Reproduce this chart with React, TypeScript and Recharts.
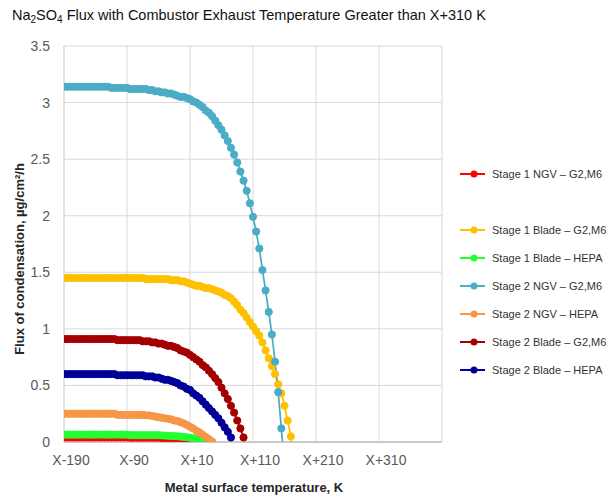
import { CartesianGrid, Legend, Line, LineChart, XAxis, YAxis } from 'recharts'

// metal surface temperature offsets from X, K
const TEMPS = [
  -190, -185, -180, -175, -170, -165, -160, -155, -150, -145,
  -140, -135, -130, -125, -120, -115, -110, -105, -100, -95,
  -90, -85, -80, -75, -70, -65, -60, -55, -50, -45,
  -40, -35, -30, -25, -20, -15, -10, -5, 0, 5,
  10, 15, 20, 25, 30, 35, 40, 45, 50, 55,
  60, 65, 70, 75, 80, 85, 90, 95, 100, 105,
  110, 115, 120, 125, 130, 135, 140, 145, 150, 155,
  160, 165, 170, 175,
]

const STAGE1_NGV_G2M6 = [
  0.04, 0.04, 0.04, 0.04, 0.04, 0.04, 0.04, 0.04, 0.04, 0.04,
  0.04, 0.04, 0.04, 0.04, 0.04, 0.04, 0.04, 0.04, 0.04, 0.04,
  0.04, 0.038, 0.038, 0.038, 0.038, 0.038, 0.038, 0.038, 0.038, 0.038,
  0.038, 0.035, 0.035, 0.035, 0.035, 0.035, 0.035, 0.033, 0.031, 0.028,
  0.025, 0.021, 0.017, 0.012, 0.007, 0.002,
]

const STAGE1_BLADE_G2M6 = [
  1.45, 1.45, 1.45, 1.45, 1.45, 1.45, 1.45, 1.45, 1.45, 1.45,
  1.45, 1.45, 1.45, 1.45, 1.45, 1.45, 1.45, 1.45, 1.45, 1.45,
  1.45, 1.45, 1.45, 1.45, 1.45, 1.45, 1.44, 1.44, 1.44, 1.44,
  1.44, 1.44, 1.44, 1.44, 1.43, 1.43, 1.43, 1.42, 1.42, 1.41,
  1.4, 1.39, 1.38, 1.38, 1.37, 1.36, 1.36, 1.35, 1.34, 1.33,
  1.32, 1.3, 1.29, 1.27, 1.24, 1.21, 1.17, 1.14, 1.1, 1.06,
  1.02, 0.98, 0.94, 0.88, 0.81, 0.74, 0.67, 0.6, 0.51, 0.43,
  0.32, 0.19, 0.05, -0.12,
]

const STAGE1_BLADE_HEPA = [
  0.065, 0.065, 0.065, 0.065, 0.065, 0.065, 0.065, 0.065, 0.065, 0.065,
  0.065, 0.065, 0.065, 0.065, 0.065, 0.065, 0.065, 0.065, 0.065, 0.065,
  0.065, 0.06, 0.06, 0.06, 0.06, 0.06, 0.06, 0.06, 0.06, 0.06,
  0.06, 0.058, 0.057, 0.055, 0.054, 0.052, 0.05, 0.048, 0.045, 0.042,
  0.038, 0.033, 0.028, 0.022, 0.016, 0.009, 0.002,
]

const STAGE2_NGV_G2M6 = [
  3.14, 3.14, 3.14, 3.14, 3.14, 3.14, 3.14, 3.14, 3.14, 3.14,
  3.14, 3.14, 3.14, 3.14, 3.14, 3.13, 3.13, 3.13, 3.13, 3.13,
  3.13, 3.12, 3.12, 3.12, 3.12, 3.12, 3.12, 3.11, 3.11, 3.1,
  3.1, 3.09, 3.09, 3.08, 3.08, 3.07, 3.06, 3.05, 3.05, 3.04,
  3.03, 3.01, 3.0, 2.98, 2.96, 2.93, 2.91, 2.88, 2.84, 2.8,
  2.76, 2.71, 2.66, 2.6, 2.54, 2.47, 2.39, 2.31, 2.22, 2.11,
  1.99, 1.86, 1.71, 1.52, 1.34, 1.15, 0.95, 0.71, 0.44, 0.12,
  -0.22,
]

const STAGE2_NGV_HEPA = [
  0.25, 0.25, 0.25, 0.25, 0.25, 0.25, 0.25, 0.25, 0.25, 0.25,
  0.25, 0.25, 0.25, 0.25, 0.25, 0.25, 0.25, 0.24, 0.24, 0.24,
  0.24, 0.24, 0.24, 0.24, 0.24, 0.24, 0.235, 0.235, 0.23, 0.225,
  0.22, 0.215, 0.21, 0.205, 0.2, 0.19, 0.185, 0.175, 0.165, 0.15,
  0.135, 0.12, 0.1, 0.085, 0.065, 0.045, 0.025, 0.005,
]

const STAGE2_BLADE_G2M6 = [
  0.91, 0.91, 0.91, 0.91, 0.91, 0.91, 0.91, 0.91, 0.91, 0.91,
  0.91, 0.91, 0.91, 0.91, 0.91, 0.91, 0.91, 0.9, 0.9, 0.9,
  0.9, 0.9, 0.9, 0.9, 0.9, 0.89, 0.89, 0.89, 0.88, 0.88,
  0.87, 0.87, 0.86, 0.85, 0.85, 0.84, 0.83, 0.81, 0.8, 0.79,
  0.77, 0.75, 0.73, 0.71, 0.68, 0.66, 0.63, 0.6, 0.565, 0.53,
  0.48, 0.43, 0.38, 0.32, 0.26, 0.19, 0.12, 0.04,
]

const STAGE2_BLADE_HEPA = [
  0.6, 0.6, 0.6, 0.6, 0.6, 0.6, 0.6, 0.6, 0.6, 0.6,
  0.6, 0.6, 0.6, 0.6, 0.6, 0.6, 0.6, 0.59, 0.59, 0.59,
  0.59, 0.59, 0.59, 0.59, 0.59, 0.59, 0.58, 0.58, 0.58, 0.57,
  0.57, 0.56, 0.55, 0.55, 0.54, 0.53, 0.52, 0.5, 0.49, 0.47,
  0.46, 0.43, 0.41, 0.39, 0.36, 0.33, 0.3, 0.27, 0.24, 0.21,
  0.17, 0.13, 0.09, 0.04,
]

const X_TICKS = [-190, -90, 10, 110, 210, 310, 410]
const X_TICK_LABELS = ['X-190', 'X-90', 'X+10', 'X+110', 'X+210', 'X+310', '']
const Y_TICKS = [0, 0.5, 1, 1.5, 2, 2.5, 3, 3.5]

const SERIES = [
  { key: 's1ngvG', name: 'Stage 1 NGV \u2013 G2,M6', color: '#ff0000', values: STAGE1_NGV_G2M6 },
  { key: 's1bladeG', name: 'Stage 1 Blade \u2013 G2,M6', color: '#ffc000', values: STAGE1_BLADE_G2M6 },
  { key: 's1bladeH', name: 'Stage 1 Blade \u2013 HEPA', color: '#22ff33', values: STAGE1_BLADE_HEPA },
  { key: 's2ngvG', name: 'Stage 2 NGV \u2013 G2,M6', color: '#4bacc6', values: STAGE2_NGV_G2M6 },
  { key: 's2ngvH', name: 'Stage 2 NGV \u2013 HEPA', color: '#f79646', values: STAGE2_NGV_HEPA },
  { key: 's2bladeG', name: 'Stage 2 Blade \u2013 G2,M6', color: '#a50000', values: STAGE2_BLADE_G2M6 },
  { key: 's2bladeH', name: 'Stage 2 Blade \u2013 HEPA', color: '#000099', values: STAGE2_BLADE_HEPA },
]

const data = TEMPS.map((t, i) => {
  const row: Record<string, number | undefined> = { t }
  SERIES.forEach((s) => {
    row[s.key] = s.values[i]
  })
  return row
})

const FONT = '"Liberation Sans", Arial, sans-serif'

function XTick(props: any) {
  const { x, y, payload } = props
  const label = X_TICK_LABELS[X_TICKS.indexOf(payload.value)]
  if (!label) return null
  return (
    <text x={x + 7} y={y} dy={15} textAnchor="middle" fill="#595959" fontSize={14} fontFamily={FONT}>
      {label}
    </text>
  )
}

function LegendBox() {
  return (
    <div style={{ fontFamily: FONT, fontSize: 11, color: '#333' }}>
      {SERIES.map((s, i) => (
        <div key={s.key}>
          <div style={{ height: 28, display: 'flex', alignItems: 'center' }}>
            <svg width={32} height={10} style={{ flex: 'none' }}>
              <line x1={5} y1={5} x2={30} y2={5} stroke={s.color} strokeWidth={2} />
              <circle cx={19} cy={5} r={3.5} fill={s.color} />
            </svg>
            <span style={{ marginLeft: 5, whiteSpace: 'nowrap' }}>{s.name}</span>
          </div>
          {i === 0 && <div style={{ height: 28 }} />}
        </div>
      ))}
    </div>
  )
}

export default function App() {
  return (
    <div
      style={{
        position: 'absolute',
        left: 0,
        top: 0,
        width: 608,
        height: 497,
        background: '#fff',
        fontFamily: FONT,
      }}
    >
      <div style={{ position: 'absolute', left: 12, top: 7, fontSize: 14.5, lineHeight: '16px', color: '#111', whiteSpace: 'nowrap' }}>
        Na<span style={{ fontSize: 10, position: 'relative', top: 3 }}>2</span>SO
        <span style={{ fontSize: 10, position: 'relative', top: 3 }}>4</span> Flux with Combustor Exhaust Temperature
        Greater than X+310 K
      </div>
      <LineChart width={608} height={497} data={data} margin={{ top: 46, right: 13, bottom: 0, left: 0 }}>
        <CartesianGrid stroke="#d9d9d9" strokeWidth={1} />
        <XAxis
          dataKey="t"
          type="number"
          domain={[-190, 410]}
          ticks={X_TICKS}
          allowDataOverflow
          height={55}
          tickLine={false}
          axisLine={{ stroke: '#bfbfbf', strokeWidth: 1.5 }}
          tick={<XTick />}
          interval={0}
        />
        <YAxis
          type="number"
          domain={[0, 3.5]}
          ticks={Y_TICKS}
          allowDataOverflow
          width={64}
          tickLine={false}
          tickMargin={8}
          axisLine={{ stroke: '#d9d9d9' }}
          tick={{ fill: '#595959', fontSize: 14, fontFamily: FONT }}
          interval={0}
        />
        <Legend
          layout="vertical"
          verticalAlign="top"
          align="right"
          content={<LegendBox />}
          wrapperStyle={{ left: 455, top: 160, width: 153 }}
        />
        {SERIES.map((s) => (
          <Line
            key={s.key}
            dataKey={s.key}
            name={s.name}
            type="linear"
            stroke={s.color}
            strokeWidth={1.75}
            dot={{ r: 3.6, fill: s.color, stroke: s.color, strokeWidth: 1 }}
            isAnimationActive={false}
          />
        ))}
      </LineChart>
      <div
        style={{
          position: 'absolute',
          left: -110,
          top: 251,
          width: 260,
          height: 16,
          lineHeight: '16px',
          textAlign: 'center',
          transform: 'rotate(-90deg)',
          fontSize: 13,
          fontWeight: 'bold',
          color: '#262626',
          whiteSpace: 'nowrap',
        }}
      >
        Flux of condensation, µg/cm²/h
      </div>
      <div
        style={{
          position: 'absolute',
          left: 104,
          top: 480,
          width: 300,
          lineHeight: '16px',
          textAlign: 'center',
          fontSize: 13,
          fontWeight: 'bold',
          color: '#262626',
        }}
      >
        Metal surface temperature, K
      </div>
    </div>
  )
}
